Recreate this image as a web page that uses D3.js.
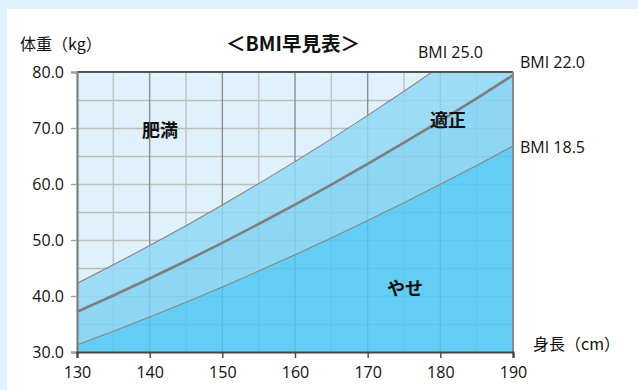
<!DOCTYPE html>
<html>
<head>
<meta charset="utf-8">
<script src="https://cdn.jsdelivr.net/npm/d3@7"></script>
<style>
  html, body { margin: 0; padding: 0; background: #dff2fa; }
  svg { display: block; }
  text { font-family: "Open Sans", "Noto Sans CJK JP", sans-serif; fill: #111; }
  .jp { font-family: "Noto Sans CJK JP", sans-serif; }
</style>
</head>
<body>
<script>
// Heights (cm) at which the BMI boundary curves are evaluated
const heights = [130, 135, 140, 145, 150, 155, 160, 165, 170, 175, 180, 185, 190];
// BMI boundary values (upper limit of normal, standard, lower limit of normal)
const bmiValues = [25.0, 22.0, 18.5];
const bmiLabels = ["BMI 25.0", "BMI 22.0", "BMI 18.5"];
// Axis ticks
const xTicks = [130, 140, 150, 160, 170, 180, 190];
const yTicks = [30, 40, 50, 60, 70, 80];
// Zone names
const zoneLabels = ["肥満", "適正", "やせ"];

const W = 638, H = 390;
const M = { left: 77, right: 513, top: 72, bottom: 352 };

const svg = d3.select("body").append("svg").attr("width", W).attr("height", H);

// white card on the pale blue page
svg.append("rect").attr("x", 7).attr("y", 9).attr("width", W - 7).attr("height", H - 9).attr("fill", "#ffffff");

const x = d3.scaleLinear().domain([130, 190]).range([M.left, M.right]);
const y = d3.scaleLinear().domain([30, 80]).range([M.bottom, M.top]);

const weight = (bmi, h) => bmi * (h / 100) * (h / 100);
const curves = bmiValues.map(b => heights.map(h => ({ h, w: weight(b, h) })));

svg.append("clipPath").attr("id", "plotClip")
  .append("rect").attr("x", M.left).attr("y", M.top).attr("width", M.right - M.left).attr("height", M.bottom - M.top);

const plot = svg.append("g").attr("clip-path", "url(#plotClip)");

// plot background
plot.append("rect").attr("x", M.left).attr("y", M.top).attr("width", M.right - M.left).attr("height", M.bottom - M.top)
  .attr("fill", "#dff1fa");

// grid: every 5 kg horizontally, every 5 cm vertically (10 cm darker)
const hGrid = d3.range(35, 80, 5);
const vGrid = d3.range(135, 190, 5);
plot.selectAll(".hg").data(hGrid).join("line")
  .attr("x1", M.left).attr("x2", M.right)
  .attr("y1", d => y(d) + 0.5).attr("y2", d => y(d) + 0.5)
  .attr("stroke", "#bdbdbd").attr("stroke-width", 1.4);
plot.selectAll(".vg").data(vGrid).join("line")
  .attr("y1", M.top).attr("y2", M.bottom)
  .attr("x1", d => x(d)).attr("x2", d => x(d))
  .attr("stroke", d => d % 10 === 0 ? "#8f8f8f" : "#c2c2c2").attr("stroke-width", 1.4);

// zone bands between consecutive curves
const bandColors = ["#91d8f4", "#7fd1f2", "#4dc7f2"];
const area = d3.area().x(d => x(d.h)).curve(d3.curveMonotoneX);
const bands = [
  heights.map((h, i) => ({ h, y0: curves[1][i].w, y1: curves[0][i].w })),
  heights.map((h, i) => ({ h, y0: curves[2][i].w, y1: curves[1][i].w })),
  heights.map((h, i) => ({ h, y0: 30, y1: curves[2][i].w }))
];
plot.selectAll(".band").data(bands).join("path")
  .attr("d", d => area.y0(p => y(p.y0)).y1(p => y(p.y1))(d))
  .attr("fill", (d, i) => bandColors[i])
  .attr("fill-opacity", 0.85);

// BMI boundary curves
const line = d3.line().x(d => x(d.h)).y(d => y(d.w)).curve(d3.curveMonotoneX);
plot.selectAll(".curve").data(curves).join("path")
  .attr("d", line)
  .attr("fill", "none")
  .attr("stroke", (d, i) => i === 1 ? "#7d7d7d" : "#858585")
  .attr("stroke-width", (d, i) => i === 1 ? 2.6 : 1.1);

// frame
svg.append("line").attr("x1", M.left).attr("x2", M.right).attr("y1", M.top).attr("y2", M.top)
  .attr("stroke", "#555").attr("stroke-width", 2);
svg.append("line").attr("x1", M.right).attr("x2", M.right).attr("y1", M.top).attr("y2", M.bottom)
  .attr("stroke", "#8a8a8a").attr("stroke-width", 2);

// axes
const yAxis = svg.append("g").attr("transform", `translate(${M.left},0)`)
  .call(d3.axisLeft(y).tickValues(yTicks).tickFormat(d3.format(".1f")).tickSize(6).tickPadding(8));
yAxis.select(".domain").attr("stroke", "#7f7f7f").attr("stroke-width", 2.2);
yAxis.selectAll(".tick line").attr("stroke", "#a0a0a0").attr("stroke-width", 1.4);
yAxis.selectAll(".tick text").attr("font-size", 16).attr("fill", "#111")
  .attr("font-family", "'Open Sans', sans-serif").attr("dx", 1);

const xAxis = svg.append("g").attr("transform", `translate(0,${M.bottom})`)
  .call(d3.axisBottom(x).tickValues(xTicks).tickFormat(d3.format("d")).tickSize(6).tickPadding(9));
xAxis.select(".domain").attr("stroke", "#444").attr("stroke-width", 2.2);
xAxis.selectAll(".tick line").attr("stroke", "#444").attr("stroke-width", 1.4);
xAxis.selectAll(".tick text").attr("font-size", 16).attr("fill", "#111")
  .attr("font-family", "'Open Sans', sans-serif");
svg.selectAll(".domain").attr("fill", "none");

// titles
svg.append("text").attr("class", "jp").attr("x", 20).attr("y", 50)
  .attr("font-size", 16).text("体重（kg）");
svg.append("text").attr("class", "jp").attr("x", 293).attr("y", 51)
  .attr("text-anchor", "middle").attr("font-size", 19.5).attr("font-weight", "bold").text("＜BMI早見表＞");
svg.append("text").attr("class", "jp").attr("x", 533).attr("y", 350)
  .attr("font-size", 16).text("身長（cm）");

// curve labels
svg.append("text").attr("x", 418).attr("y", 58).attr("font-size", 16).text(bmiLabels[0]);
svg.append("text").attr("x", 520).attr("y", 68).attr("font-size", 16).text(bmiLabels[1]);
svg.append("text").attr("x", 520).attr("y", 153).attr("font-size", 16).text(bmiLabels[2]);

// zone labels
const zonePos = [[160, 137], [448, 127], [405, 295]];
svg.selectAll(".zone").data(zoneLabels).join("text")
  .attr("class", "jp")
  .attr("x", (d, i) => zonePos[i][0]).attr("y", (d, i) => zonePos[i][1])
  .attr("text-anchor", "middle").attr("font-size", 18).attr("font-weight", "bold")
  .attr("fill", "#000")
  .text(d => d);
</script>
</body>
</html>
